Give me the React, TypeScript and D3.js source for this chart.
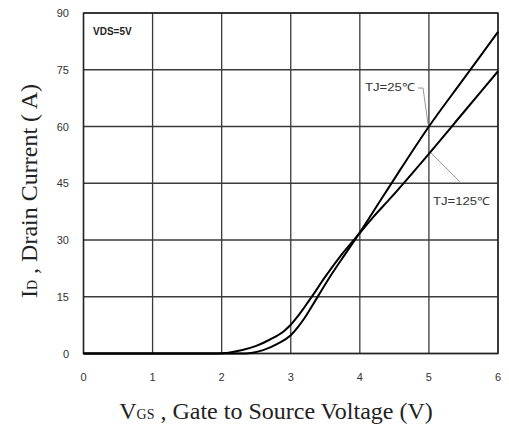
import React from "react";
import * as d3 from "d3";

const xTicks = [0, 1, 2, 3, 4, 5, 6];
const yTicks = [0, 15, 30, 45, 60, 75, 90];

const vgs25 = [0, 2.35, 2.45, 2.6, 2.8, 3.0, 3.1, 3.2, 3.3, 3.4, 3.6, 3.8, 3.96, 4.3, 4.6, 5.0, 5.5, 6.0];
const id25 = [0, 0, 0.2, 0.9, 2.5, 4.8, 6.9, 9.4, 12.3, 15.3, 21.2, 26.6, 30.9, 40.5, 49, 60, 72.5, 85];

const vgs125 = [0, 1.95, 2.1, 2.3, 2.5, 2.7, 2.9, 3.0, 3.1, 3.2, 3.3, 3.5, 3.7, 3.96, 4.2, 4.45, 5.0, 5.5, 6.0];
const id125 = [0, 0, 0.2, 0.9, 2.0, 3.7, 5.9, 7.6, 9.8, 12.3, 14.9, 20.3, 25.3, 31, 36.2, 41.2, 52.8, 63.7, 74.6];

export default function App() {
  const W = 509, H = 429;
  const L = 83.5, R = 498, T = 13, B = 353.5;
  const x = d3.scaleLinear().domain([0, 6]).range([L, R]);
  const y = d3.scaleLinear().domain([0, 90]).range([B, T]);
  const line = d3
    .line<[number, number]>()
    .x((d) => x(d[0]))
    .y((d) => y(d[1]))
    .curve(d3.curveMonotoneX);
  const p25 = line(vgs25.map((v, i) => [v, id25[i]] as [number, number])) || "";
  const p125 = line(vgs125.map((v, i) => [v, id125[i]] as [number, number])) || "";
  const tickFont = "'Liberation Sans', Arial, sans-serif";
  const serif = "'Liberation Serif', 'Times New Roman', serif";
  return (
    <svg width={W} height={H} style={{ position: "absolute", left: 0, top: 0, background: "#fff" }}>
      <rect x={0} y={0} width={W} height={H} fill="#fff" />
      {xTicks.map((t) => (
        <line key={"gx" + t} x1={x(t)} x2={x(t)} y1={T} y2={B} stroke="#3a3a3a" strokeWidth={1.3} />
      ))}
      {yTicks.map((t) => (
        <line key={"gy" + t} x1={L} x2={R} y1={y(t)} y2={y(t)} stroke="#3a3a3a" strokeWidth={1.3} />
      ))}
      <rect x={L} y={T} width={R - L} height={B - T} fill="none" stroke="#222" strokeWidth={1.4} />
      <path d={p125} fill="none" stroke="#000" strokeWidth={2} />
      <path d={p25} fill="none" stroke="#000" strokeWidth={2} />
      {xTicks.map((t) => (
        <text key={"tx" + t} x={x(t)} y={381} textAnchor="middle" fontSize={11} fontFamily={tickFont} fill="#333">
          {t}
        </text>
      ))}
      {yTicks.map((t) => (
        <text key={"ty" + t} x={69} y={y(t) + 4} textAnchor="end" fontSize={11} fontFamily={tickFont} fill="#333">
          {t}
        </text>
      ))}
      <text x={93} y={35} fontSize={10} fontFamily={tickFont} fontWeight="bold" fill="#222">VDS=5V</text>
      <text x={365} y={91} fontSize={11} fontFamily={tickFont} fill="#333" textLength={50} lengthAdjust="spacingAndGlyphs">TJ=25℃</text>
      <polyline points="418,88 423,88 428,124" fill="none" stroke="#999" strokeWidth={1} />
      <text x={433} y={205} fontSize={11} fontFamily={tickFont} fill="#333" textLength={57} lengthAdjust="spacingAndGlyphs">TJ=125℃</text>
      <line x1={431} y1={153} x2={460} y2={182} stroke="#999" strokeWidth={1} />
      <text x={276} y={419} textAnchor="middle" fontSize={24} fontFamily={serif} fill="#222">
        V<tspan fontSize={14}>GS</tspan> , Gate to Source Voltage (V)
      </text>
      <text
        transform="translate(37,191) rotate(-90)"
        textAnchor="middle"
        fontSize={24}
        fontFamily={serif}
        fill="#222"
      >
        I<tspan fontSize={14}>D</tspan> , Drain Current ( A)
      </text>
    </svg>
  );
}
